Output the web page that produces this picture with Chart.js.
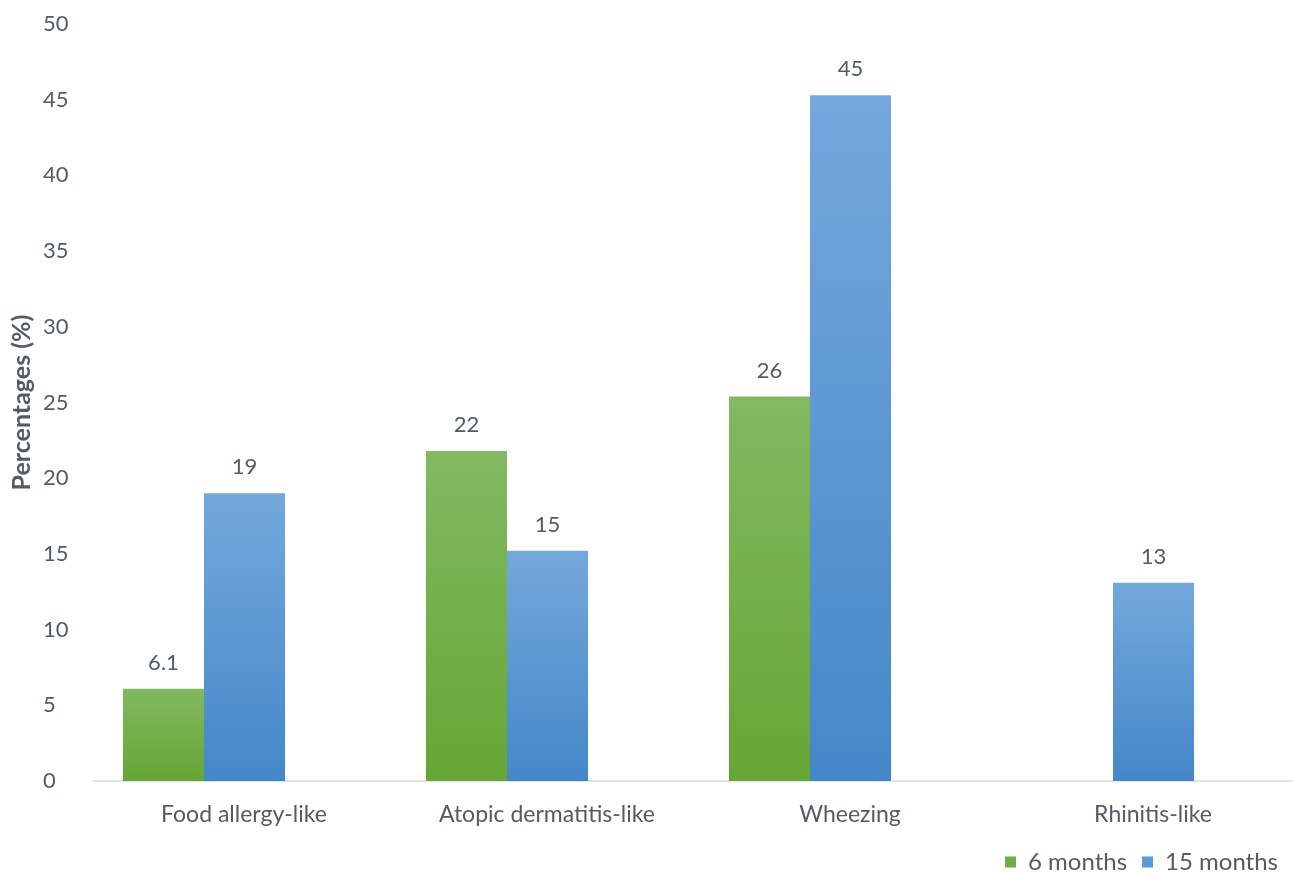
<!DOCTYPE html>
<html lang="en">
<head>
    <meta charset="UTF-8">
    <title>Allergic symptoms</title>
    <script src="https://cdn.jsdelivr.net/npm/chart.js@4.4.0/dist/chart.umd.min.js"></script>
    <style>
        html, body { margin: 0; padding: 0; background: #fff; }
        #wrap { width: 1293px; height: 873px; }
    </style>
</head>
<body>
    <div id="wrap">
        <canvas id="symptoms-canvas"></canvas>
    </div>

    <script type="text/javascript">
        var categories = ['Food allergy-like', 'Atopic dermatitis-like', 'Wheezing', 'Rhinitis-like'];
        var months6 = [6.1, 21.8, 25.4, null];
        var months15 = [19.0, 15.2, 45.3, 13.1];
        // the labels printed over the bars (as shown on the figure)
        var months6Labels = ['6.1', '22', '26', ''];
        var months15Labels = ['19', '15', '45', '13'];
        var yMax = 50;
        var yStep = 5;

        var textColor = '#545b66';
        Chart.defaults.font.family = 'Lato';
        Chart.defaults.font.size = 22;
        Chart.defaults.color = textColor;

        // lighter at the top, darker at the base, one gradient per bar
        function barGradient(top, bottom) {
            return function(ctx) {
                var chart = ctx.chart;
                var y = chart.scales ? chart.scales.y : null;
                if (!chart.chartArea || !y || ctx.raw == null) return bottom;
                var g = chart.ctx.createLinearGradient(0, y.getPixelForValue(ctx.raw), 0, y.getPixelForValue(0));
                g.addColorStop(0, top);
                g.addColorStop(1, bottom);
                return g;
            };
        }

        var valueLabels = {
            id: 'valueLabels',
            afterDatasetsDraw: function(chart) {
                var ctx = chart.ctx;
                var lists = [months6Labels, months15Labels];
                ctx.save();
                ctx.font = '22px Lato';
                ctx.fillStyle = textColor;
                ctx.textAlign = 'center';
                ctx.textBaseline = 'middle';
                chart.data.datasets.forEach(function(ds, i) {
                    chart.getDatasetMeta(i).data.forEach(function(bar, j) {
                        if (ds.data[j] == null) return;
                        ctx.fillText(lists[i][j], bar.x, bar.y - 26);
                    });
                });
                ctx.restore();
            }
        };

        // thin baseline under the bars, starting past the tick labels
        var baseline = {
            id: 'baseline',
            beforeDatasetsDraw: function(chart) {
                var ctx = chart.ctx;
                var y0 = chart.scales.y.getPixelForValue(0);
                ctx.save();
                ctx.strokeStyle = '#d9d9d9';
                ctx.lineWidth = 1.5;
                ctx.beginPath();
                ctx.moveTo(chart.chartArea.left + 40, y0);
                ctx.lineTo(chart.width, y0);
                ctx.stroke();
                ctx.restore();
            }
        };

        var chartData = {
            labels: categories,
            datasets: [{
                label: '6 months',
                data: months6,
                backgroundColor: barGradient('#82b962', '#65a634'),
                legendColor: '#70ad47'
            }, {
                label: '15 months',
                data: months15,
                backgroundColor: barGradient('#74a8dc', '#4487c8'),
                legendColor: '#5b9bd5'
            }]
        };

        var ctx = document.getElementById('symptoms-canvas').getContext('2d');
        new Chart(ctx, {
            type: 'bar',
            data: chartData,
            plugins: [baseline, valueLabels],
            options: {
                responsive: true,
                maintainAspectRatio: false,
                animation: false,
                layout: { padding: { top: 24, bottom: -11, left: 0, right: 0 } },
                datasets: {
                    bar: { categoryPercentage: 0.535, barPercentage: 1.0, borderWidth: 0 }
                },
                plugins: {
                    tooltip: { enabled: false },
                    legend: {
                        position: 'bottom',
                        align: 'end',
                        labels: {
                            boxWidth: 11,
                            boxHeight: 11,
                            padding: 15,
                            font: { size: 24 },
                            generateLabels: function(chart) {
                                return chart.data.datasets.map(function(ds, i) {
                                    return {
                                        text: ds.label,
                                        fillStyle: ds.legendColor,
                                        strokeStyle: ds.legendColor,
                                        lineWidth: 0,
                                        fontColor: textColor,
                                        datasetIndex: i
                                    };
                                });
                            }
                        }
                    }
                },
                scales: {
                    x: {
                        grid: { display: false, drawTicks: false },
                        border: { display: false },
                        ticks: { padding: 20, labelOffset: 40, font: { size: 23 } },
                        afterFit: function(scale) { scale.height = 54; }
                    },
                    y: {
                        min: 0,
                        max: yMax,
                        afterFit: function(scale) { scale.width = 52.5; },
                        grid: { display: false, drawTicks: false },
                        border: { display: false },
                        ticks: { stepSize: yStep, mirror: true, padding: -9.5, font: { size: 22 } },
                        title: {
                            display: true,
                            text: 'Percentages (%)',
                            font: { size: 25, weight: 'bold' },
                            padding: { top: 7, bottom: 0 }
                        }
                    },
                    // empty right-hand strip so the categories line up with the figure
                    yRight: {
                        position: 'right',
                        grid: { display: false },
                        border: { display: false },
                        ticks: { display: false },
                        afterFit: function(scale) { scale.width = 28.5; }
                    }
                }
            }
        });
    </script>
</body>
</html>
